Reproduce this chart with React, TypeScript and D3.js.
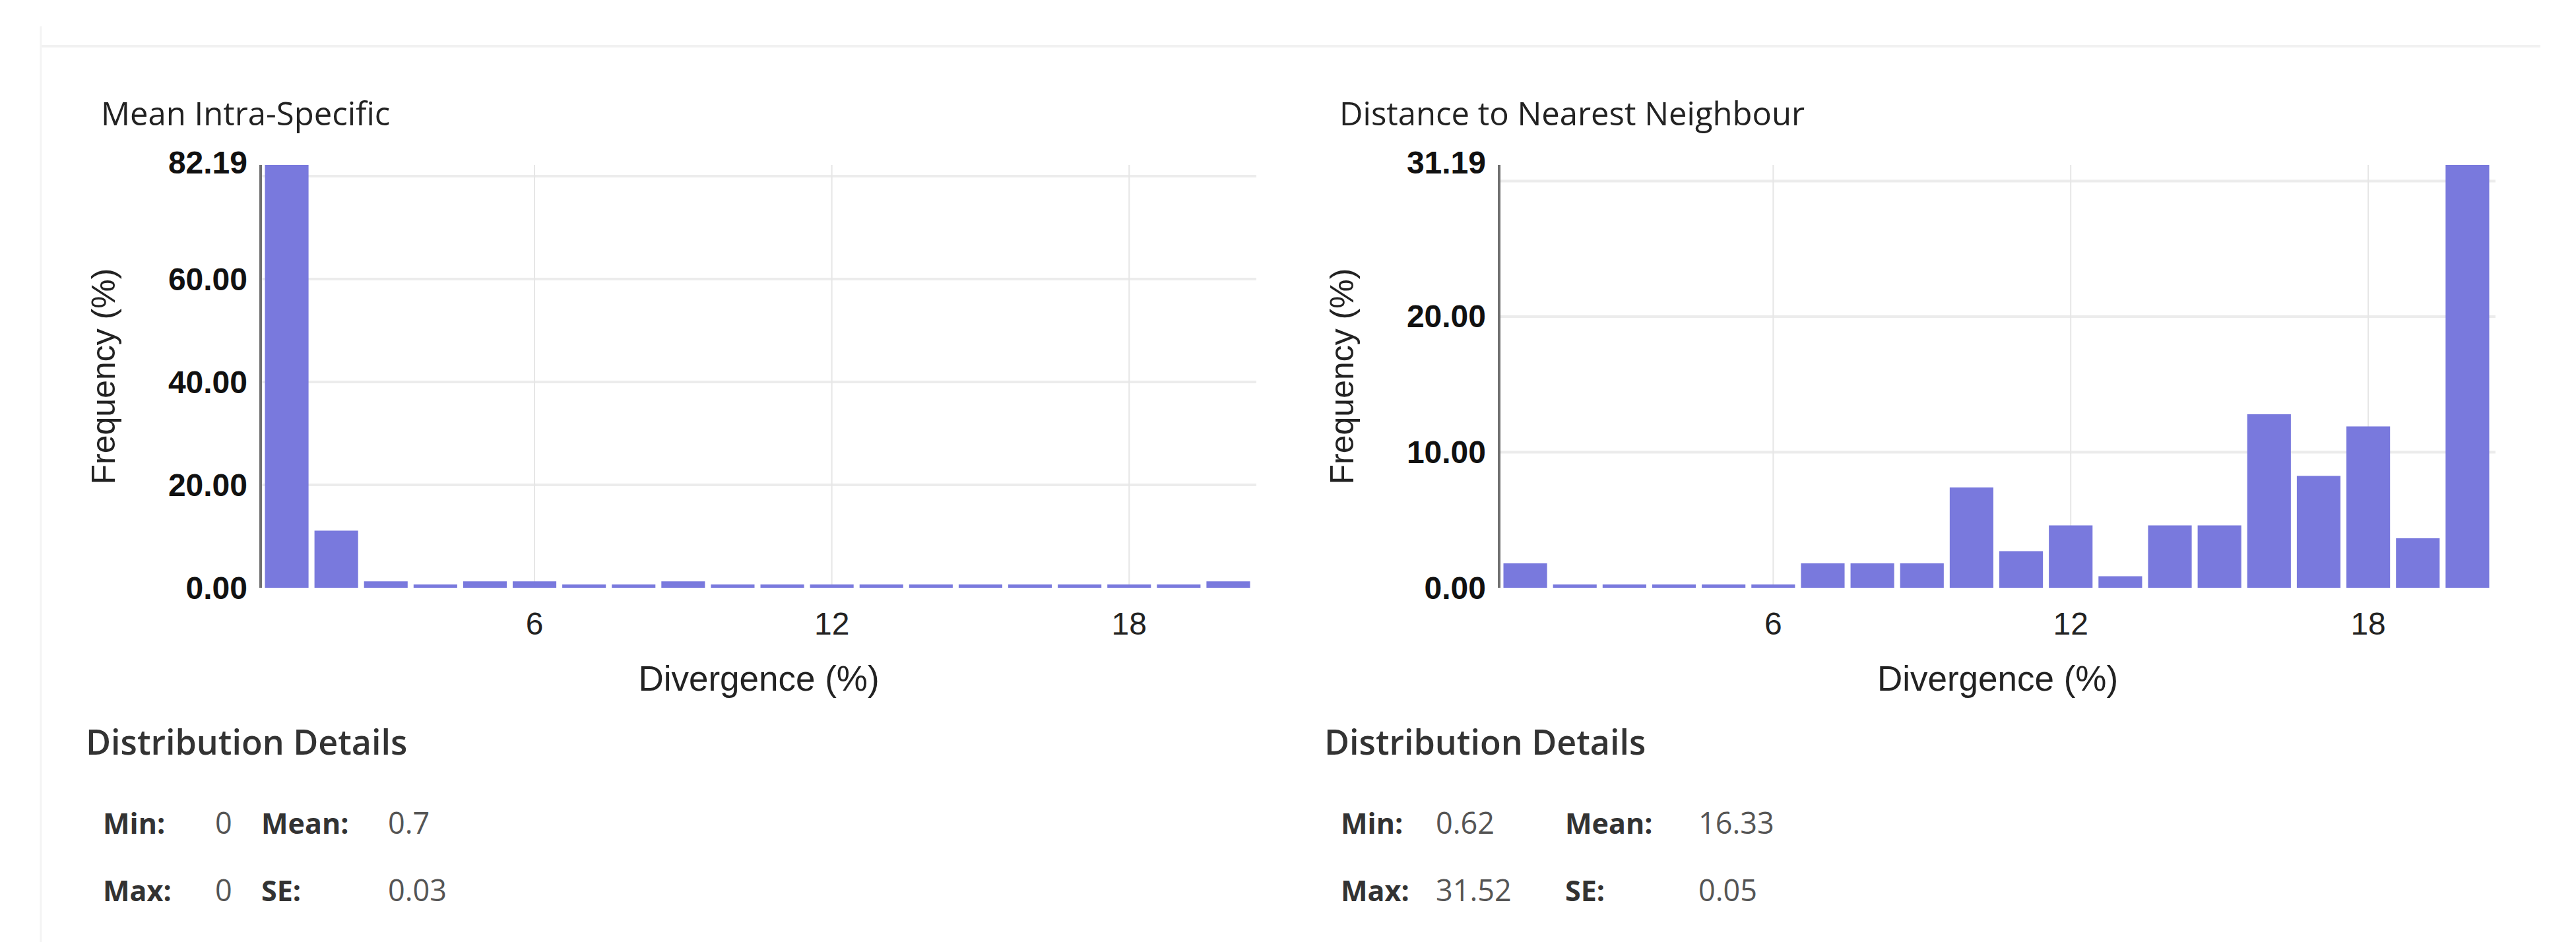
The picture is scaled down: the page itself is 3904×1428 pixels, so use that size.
import React from "react";
import * as d3 from "d3";

// ---- data ----
const bins: number[] = [1, 2, 3, 4, 5, 6, 7, 8, 9, 10, 11, 12, 13, 14, 15, 16, 17, 18, 19, 20];
const intraValues: number[] = [82.19, 11.1, 1.25, 0, 1.25, 1.25, 0, 0, 1.25, 0, 0, 0, 0, 0, 0, 0, 0, 0, 0, 1.25];
const nnValues: number[] = [1.8, 0, 0, 0, 0, 0, 1.8, 1.8, 1.8, 7.4, 2.7, 4.6, 0.85, 4.6, 4.6, 12.8, 8.25, 11.9, 3.65, 31.19];
const xTicks: number[] = [6, 12, 18];
const intraYTicks: number[] = [0, 20, 40, 60];
const intraGrid: number[] = [20, 40, 60, 80];
const intraMax = 82.19;
const nnYTicks: number[] = [0, 10, 20];
const nnGrid: number[] = [10, 20, 30];
const nnMax = 31.19;
const titles: string[] = ["Mean Intra-Specific", "Distance to Nearest Neighbour"];
const intraStats: [string, string, string, string][] = [
  ["Min:", "0", "Mean:", "0.7"],
  ["Max:", "0", "SE:", "0.03"],
];
const nnStats: [string, string, string, string][] = [
  ["Min:", "0.62", "Mean:", "16.33"],
  ["Max:", "31.52", "SE:", "0.05"],
];

const BAR = "#7979dd";
const SANS = "'Liberation Sans', Arial, sans-serif";
const OPEN = "'Open Sans', 'Noto Sans', sans-serif";

type PanelProps = {
  x0: number;
  x1: number;
  title: string;
  values: number[];
  yTicks: number[];
  grid: number[];
  max: number;
  stats: [string, string, string, string][];
  statCols: number[];
};

function Panel({ x0, x1, title, values, yTicks, grid, max, stats, statCols }: PanelProps) {
  const top = 250;
  const base = 891;
  const x = d3.scaleLinear().domain([0.5, 20.5]).range([x0, x1]);
  const y = d3.scaleLinear().domain([0, max]).range([base, top]);
  const gap = 9;
  const minH = 5;
  return (
    <g>
      <text x={x0 - 244} y={190} fontFamily={OPEN} fontSize={49} fill="#222">
        {title}
      </text>
      {grid.map((g) => (
        <line key={"h" + g} x1={x0} x2={x1 + 5} y1={y(g)} y2={y(g)} stroke="#ececec" strokeWidth={4} />
      ))}
      {xTicks.map((t) => (
        <line key={"v" + t} x1={x(t)} x2={x(t)} y1={top} y2={base} stroke="#e6e6e6" strokeWidth={2} />
      ))}
      {bins.map((b, i) => {
        const v = values[i];
        const h = Math.max(base - y(v), minH);
        return (
          <rect
            key={b}
            x={x(b - 0.5) + gap / 2}
            width={x(b + 0.5) - x(b - 0.5) - gap}
            y={base - h}
            height={h}
            fill={BAR}
          />
        );
      })}
      <line x1={x0 - 2} x2={x0 - 2} y1={top} y2={base} stroke="#707070" strokeWidth={4} />
      {yTicks.map((t) => (
        <text key={"yt" + t} x={x0 - 22} y={y(t)} textAnchor="end" dominantBaseline="central"
          fontFamily={SANS} fontWeight="bold" fontSize={48} fill="#111">
          {t.toFixed(2)}
        </text>
      ))}
      <text x={x0 - 22} y={y(max) - 4} textAnchor="end" dominantBaseline="central"
        fontFamily={SANS} fontWeight="bold" fontSize={48} fill="#111">
        {max.toFixed(2)}
      </text>
      {xTicks.map((t) => (
        <text key={"xt" + t} x={x(t)} y={962} textAnchor="middle" fontFamily={SANS} fontSize={48} fill="#222">
          {t}
        </text>
      ))}
      <text x={(x0 + x1) / 2 + 2} y={1047} textAnchor="middle" fontFamily={SANS} fontSize={53} fill="#222">
        Divergence (%)
      </text>
      <text
        transform={`translate(${x0 - 240},${(top + base) / 2}) rotate(-90)`}
        textAnchor="middle"
        dominantBaseline="central"
        fontFamily={SANS}
        fontSize={50}
        fill="#222"
      >
        Frequency (%)
      </text>
      <text x={x0 - 267} y={1144} fontFamily={OPEN} fontWeight={600} fontSize={52} fill="#333">
        Distribution Details
      </text>
      {stats.map((row, r) => (
        <g key={"s" + r}>
          {row.map((s, c) => (
            <text
              key={c}
              x={statCols[c]}
              y={1264 + r * 102}
              fontFamily={OPEN}
              fontWeight={c % 2 === 0 ? 700 : 400}
              fontSize={c % 2 === 0 ? 43 : 45}
              fill={c % 2 === 0 ? "#333" : "#555"}
            >
              {s}
            </text>
          ))}
        </g>
      ))}
    </g>
  );
}

export default function App() {
  return (
    <svg
      width={3904}
      height={1428}
      style={{ position: "absolute", left: 0, top: 0, display: "block", background: "#fff" }}
    >
      <rect x={0} y={0} width={3904} height={1428} fill="#fff" />
      <line x1={62} x2={3850} y1={70} y2={70} stroke="#f1f1f1" strokeWidth={4} />
      <line x1={62} x2={62} y1={40} y2={1428} stroke="#f4f4f4" strokeWidth={3} />
      <Panel
        x0={397}
        x1={1899}
        title={titles[0]}
        values={intraValues}
        yTicks={intraYTicks}
        grid={intraGrid}
        max={intraMax}
        stats={intraStats}
        statCols={[156, 326, 396, 588]}
      />
      <Panel
        x0={2274}
        x1={3777}
        title={titles[1]}
        values={nnValues}
        yTicks={nnYTicks}
        grid={nnGrid}
        max={nnMax}
        stats={nnStats}
        statCols={[2032, 2176, 2372, 2574]}
      />
    </svg>
  );
}
